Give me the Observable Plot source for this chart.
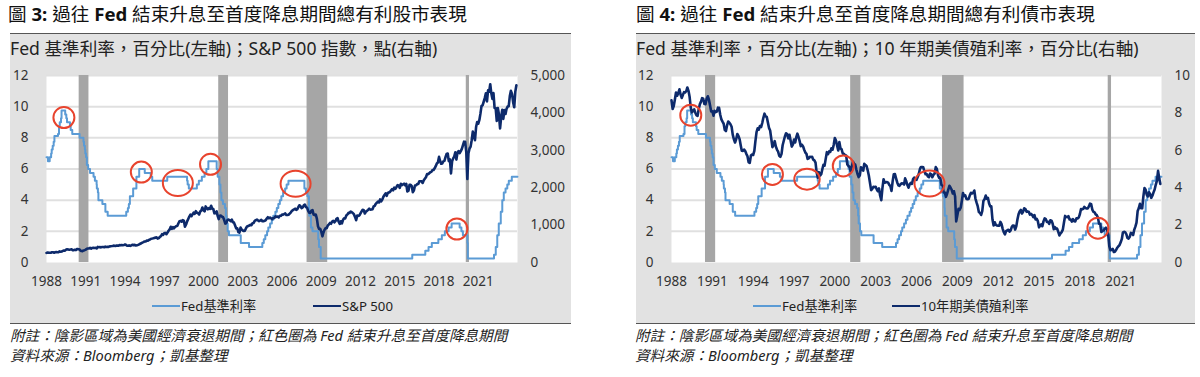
<!DOCTYPE html>
<html>
<head>
<meta charset="utf-8">
<script src="https://cdn.jsdelivr.net/npm/d3@7"></script>
<script src="https://cdn.jsdelivr.net/npm/@observablehq/plot@0.6"></script>
<style>
  html, body { margin: 0; padding: 0; }
  body { width: 1200px; height: 377px; background: #fff; position: relative; overflow: hidden;
         font-family: "Noto Sans", "Noto Sans CJK TC", sans-serif; color: #222; }
  .abs { position: absolute; white-space: nowrap; }
  .title { font-size: 18.6px; line-height: 22px; color: #111; font-weight: 400; }
  .title b { font-weight: 700; }
  .box { background: #e2e2e2; border-top: 1.5px solid #555; border-bottom: 1.5px solid #555; box-sizing: border-box; }
  .sub { font-size: 17.6px; line-height: 20px; color: #222; }
  .leg { font-size: 13.2px; line-height: 16px; color: #222; }
  .sw { position: absolute; height: 2px; }
  .note { font-style: italic; font-size: 14.6px; line-height: 20px; color: #222; }
</style>
</head>
<body>
<div class="title abs" style="left:8px;top:3px">圖 <b>3:</b> 過往 <b>Fed</b> 結束升息至首度降息期間總有利股市表現</div>
<div class="box abs" style="left:10px;top:33px;width:561px;height:291px"></div>
<div class="sub abs" style="left:10px;top:38px">Fed 基準利率，百分比(左軸)；S&amp;P 500 指數，點(右軸)</div>
<div id="chart3" class="abs" style="left:10px;top:60px"></div>
<div class="sw" style="left:152px;top:305px;width:28px;background:#5b9bd5"></div>
<div class="leg abs" style="left:181px;top:298px">Fed基準利率</div>
<div class="sw" style="left:313px;top:305px;width:28px;background:#0d2a6b"></div>
<div class="leg abs" style="left:342px;top:298px">S&amp;P 500</div>
<div class="note abs" style="left:10px;top:325px">附註：陰影區域為美國經濟衰退期間；紅色圈為 Fed 結束升息至首度降息期間</div>
<div class="note abs" style="left:10px;top:345px">資料來源：Bloomberg；凱基整理</div>

<div class="title abs" style="left:636px;top:3px">圖 <b>4:</b> 過往 <b>Fed</b> 結束升息至首度降息期間總有利債市表現</div>
<div class="box abs" style="left:636px;top:33px;width:559px;height:291px"></div>
<div class="sub abs" style="left:636px;top:38px">Fed 基準利率，百分比(左軸)；10 年期美債殖利率，百分比(右軸)</div>
<div id="chart4" class="abs" style="left:636px;top:60px"></div>
<div class="sw" style="left:753px;top:305px;width:28px;background:#5b9bd5"></div>
<div class="leg abs" style="left:782px;top:298px">Fed基準利率</div>
<div class="sw" style="left:892px;top:305px;width:28px;background:#0d2a6b"></div>
<div class="leg abs" style="left:921px;top:298px">10年期美債殖利率</div>
<div class="note abs" style="left:635px;top:325px">附註：陰影區域為美國經濟衰退期間；紅色圈為 Fed 結束升息至首度降息期間</div>
<div class="note abs" style="left:635px;top:345px">資料來源：Bloomberg；凱基整理</div>

<script>
// ---------------- DATA ----------------
// Tick labels
const xTickYears = [1988, 1991, 1994, 1997, 2000, 2003, 2006, 2009, 2012, 2015, 2018, 2021];
const leftTicks = [0, 2, 4, 6, 8, 10, 12];
const spTicks = [0, 1000, 2000, 3000, 4000, 5000];
const ustTicks = [0, 2, 4, 6, 8, 10];

// US recessions (shaded)
const recessionStarts = ["1990-07-01", "2001-03-01", "2007-12-01", "2020-02-01"];
const recessionEnds   = ["1991-03-31", "2001-11-30", "2009-06-30", "2020-04-30"];

// Fed funds target rate (upper bound), change dates and levels (%)
const fedChangeDates = ["1988-01-01","1988-02-11","1988-03-30","1988-05-09","1988-05-25","1988-06-22","1988-07-19","1988-08-09","1988-11-17","1988-12-15",
"1989-01-05","1989-02-09","1989-02-24","1989-06-06","1989-07-07","1989-07-27","1989-10-18","1989-11-06","1989-12-20",
"1990-07-13","1990-10-29","1990-11-13","1990-12-07","1990-12-19",
"1991-01-09","1991-02-01","1991-03-08","1991-04-30","1991-08-06","1991-09-13","1991-10-31","1991-11-06","1991-12-06","1991-12-20",
"1992-04-09","1992-07-02","1992-09-04",
"1994-02-04","1994-03-22","1994-04-18","1994-05-17","1994-08-16","1994-11-15",
"1995-02-01","1995-07-06","1995-12-19","1996-01-31","1997-03-25",
"1998-09-29","1998-10-15","1998-11-17","1999-06-30","1999-08-24","1999-11-16",
"2000-02-02","2000-03-21","2000-05-16",
"2001-01-03","2001-01-31","2001-03-20","2001-04-18","2001-05-15","2001-06-27","2001-08-21","2001-09-17","2001-10-02","2001-11-06","2001-12-11",
"2002-11-06","2003-06-25",
"2004-06-30","2004-08-10","2004-09-21","2004-11-10","2004-12-14",
"2005-02-02","2005-03-22","2005-05-03","2005-06-30","2005-08-09","2005-09-20","2005-11-01","2005-12-13",
"2006-01-31","2006-03-28","2006-05-10","2006-06-29",
"2007-09-18","2007-10-31","2007-12-11",
"2008-01-22","2008-01-30","2008-03-18","2008-04-30","2008-10-08","2008-10-29","2008-12-16",
"2015-12-16","2016-12-14","2017-03-15","2017-06-14","2017-12-13",
"2018-03-21","2018-06-13","2018-09-26","2018-12-19",
"2019-07-31","2019-09-18","2019-10-30","2020-03-03","2020-03-15",
"2022-03-16","2022-05-04","2022-06-15","2022-07-27","2022-09-21","2022-11-02","2022-12-14",
"2023-02-01","2023-03-22","2023-05-03","2023-07-26","2023-12-31"];
const fedRates = [6.75,6.5,6.75,7,7.25,7.5,7.75,8.125,8.25,8.75,
9,9.25,9.75,9.5,9.25,9,8.75,8.5,8.25,
8,7.75,7.5,7.25,7,
6.75,6.25,6,5.75,5.5,5.25,5,4.75,4.5,4,
3.75,3.25,3,
3.25,3.5,3.75,4.25,4.75,5.5,
6,5.75,5.5,5.25,5.5,
5.25,5,4.75,5,5.25,5.5,
5.75,6,6.5,
6,5.5,5,4.5,4,3.75,3.5,3,2.5,2,1.75,
1.25,1,
1.25,1.5,1.75,2,2.25,
2.5,2.75,3,3.25,3.5,3.75,4,4.25,
4.5,4.75,5,5.25,
4.75,4.5,4.25,
3.5,3,2.25,2,1.5,1,0.25,
0.5,0.75,1,1.25,1.5,
1.75,2,2.25,2.5,
2.25,2,1.75,1.25,0.25,
0.5,1,1.75,2.5,3.25,4,4.5,
4.75,5,5.25,5.5,5.5];

// Monthly series from Jan 1988 to Dec 2023
const seriesStart = "1988-01-01";
const sp500 = [
257,268,259,261,262,274,272,262,272,279,274,278,
297,289,295,310,321,318,346,351,349,340,346,353,
329,332,340,331,361,358,356,323,306,304,322,330,
344,367,375,375,390,371,388,395,388,392,375,417,
409,413,404,415,415,408,424,414,418,419,431,436,
439,443,452,440,450,451,448,464,459,468,462,466,
482,467,446,451,457,444,458,475,463,472,454,459,
471,487,501,515,533,545,562,562,584,582,605,616,
636,640,646,654,669,671,640,652,687,705,757,741,
786,791,757,801,848,885,954,899,947,915,955,970,
980,1049,1102,1112,1091,1134,1121,957,1017,1099,1164,1229,
1280,1238,1286,1335,1302,1373,1329,1320,1283,1363,1389,1469,
1394,1366,1499,1452,1421,1455,1431,1518,1437,1429,1315,1320,
1366,1240,1160,1249,1256,1224,1211,1134,1041,1060,1139,1148,
1130,1107,1147,1077,1067,990,912,916,815,800,936,880,
856,841,848,917,964,975,990,1008,996,1051,1058,1112,
1131,1145,1126,1107,1121,1141,1102,1104,1115,1130,1174,1212,
1181,1204,1181,1157,1191,1191,1234,1220,1229,1207,1249,1248,
1280,1281,1295,1311,1270,1270,1277,1304,1336,1378,1401,1418,
1438,1407,1421,1482,1531,1503,1455,1474,1527,1549,1481,1468,
1379,1331,1323,1386,1400,1280,1267,1283,1166,969,896,903,
826,700,798,873,919,919,987,1021,1057,1036,1096,1115,
1074,1104,1169,1187,1089,1031,1102,1049,1141,1183,1181,1258,
1286,1327,1326,1364,1345,1321,1292,1219,1131,1253,1247,1258,
1312,1366,1408,1398,1310,1362,1379,1407,1441,1412,1416,1426,
1498,1515,1569,1598,1631,1606,1686,1633,1682,1757,1806,1848,
1783,1859,1872,1884,1924,1960,1931,2003,1972,2018,2068,2059,
1995,2105,2068,2086,2107,2063,2104,1900,1920,2079,2080,2044,
1880,1932,2060,2065,2097,2099,2174,2171,2168,2126,2199,2239,
2279,2364,2363,2384,2412,2423,2470,2472,2519,2575,2648,2674,
2824,2714,2641,2648,2705,2718,2816,2902,2914,2712,2760,2380,
2704,2784,2834,2946,2752,2942,2980,2926,2977,3038,3141,3231,
3226,2954,2237,2912,3044,3100,3271,3500,3363,3270,3622,3756,
3714,3811,3973,4181,4204,4298,4395,4523,4308,4605,4567,4766,
4516,4374,4530,4132,4132,3785,4130,3955,3586,3872,4080,3840,
4077,3970,4109,4169,4180,4450,4589,4508,4288,4150,4568,4740];

const ust10y = [
8.67,8.21,8.37,8.72,9.09,8.92,9.06,9.26,8.98,8.80,8.96,9.11,
9.09,9.17,9.36,9.18,8.86,8.28,8.02,8.11,8.19,8.01,7.87,7.84,
8.21,8.47,8.59,8.79,8.76,8.48,8.47,8.75,8.89,8.72,8.39,8.08,
8.09,7.85,8.11,8.04,8.07,8.28,8.27,7.90,7.65,7.53,7.42,7.09,
7.03,7.34,7.54,7.48,7.39,7.26,6.84,6.59,6.42,6.59,6.87,6.77,
6.60,6.26,5.98,5.97,6.04,5.96,5.81,5.68,5.36,5.33,5.72,5.77,
5.75,5.97,6.48,6.97,7.18,7.10,7.30,7.24,7.46,7.74,7.96,7.81,
7.78,7.47,7.20,7.06,6.63,6.17,6.28,6.49,6.20,6.04,5.93,5.71,
5.65,5.81,6.27,6.51,6.74,6.91,6.87,6.64,6.83,6.53,6.20,6.30,
6.58,6.42,6.69,6.89,6.71,6.49,6.22,6.30,6.21,6.03,5.88,5.81,
5.54,5.57,5.65,5.64,5.65,5.50,5.46,5.34,4.81,4.53,4.83,4.65,
4.72,5.00,5.23,5.18,5.54,5.90,5.79,5.94,5.92,6.11,6.03,6.28,
6.66,6.52,6.26,5.99,6.44,6.10,6.05,5.83,5.80,5.74,5.72,5.24,
5.16,5.10,4.89,5.14,5.39,5.28,5.24,4.97,4.73,4.57,4.65,5.09,
5.04,4.91,5.28,5.21,5.16,4.93,4.65,4.26,3.87,3.94,4.05,4.03,
4.05,3.90,3.81,3.96,3.57,3.33,3.98,4.45,4.27,4.29,4.30,4.27,
4.15,4.08,3.83,4.35,4.72,4.73,4.50,4.28,4.13,4.10,4.19,4.23,
4.22,4.17,4.50,4.34,4.14,4.00,4.18,4.26,4.20,4.46,4.54,4.47,
4.42,4.57,4.72,4.99,5.11,5.11,5.09,4.88,4.72,4.73,4.60,4.56,
4.76,4.72,4.56,4.69,4.75,5.10,5.00,4.67,4.52,4.53,4.15,4.10,
3.74,3.74,3.51,3.68,3.88,4.10,4.01,3.89,3.69,3.81,3.53,2.20,
2.52,2.87,2.82,2.93,3.29,3.72,3.56,3.59,3.40,3.39,3.40,3.59,
3.73,3.69,3.73,3.85,3.42,3.20,3.01,2.70,2.65,2.54,2.76,3.29,
3.39,3.58,3.41,3.46,3.17,3.00,3.00,2.30,1.98,2.15,2.01,1.98,
1.97,1.97,2.17,2.05,1.80,1.62,1.50,1.68,1.72,1.75,1.65,1.72,
1.91,1.98,1.96,1.76,1.93,2.30,2.58,2.74,2.81,2.62,2.72,2.90,
2.86,2.71,2.72,2.71,2.56,2.60,2.54,2.42,2.53,2.30,2.33,2.21,
1.88,1.98,2.04,1.94,2.20,2.36,2.32,2.17,2.17,2.07,2.26,2.24,
2.09,1.78,1.89,1.81,1.81,1.64,1.45,1.56,1.63,1.76,2.14,2.49,
2.43,2.42,2.48,2.30,2.30,2.19,2.32,2.21,2.20,2.36,2.35,2.40,
2.58,2.86,2.84,2.87,2.98,2.91,2.89,2.89,3.00,3.15,3.12,2.83,
2.71,2.68,2.57,2.53,2.40,2.07,2.06,1.63,1.70,1.71,1.81,1.86,
1.76,1.50,0.87,0.66,0.67,0.73,0.56,0.58,0.68,0.79,0.87,0.93,
1.08,1.26,1.61,1.64,1.62,1.52,1.32,1.28,1.37,1.58,1.56,1.47,
1.76,1.93,2.13,2.75,2.90,3.14,2.90,2.90,3.52,3.98,3.89,3.62,
3.53,3.75,3.66,3.46,3.57,3.75,3.90,4.17,4.38,4.90,4.50,4.20];

// Red circles: end of hikes to first cut (centre date, level on left axis)
const circleDates3  = ["1989-05-01","1995-04-01","1998-01-15","2000-07-15","2007-01-15","2019-05-15"];
const circleValues3 = [9.3, 5.8, 5.1, 6.3, 5.05, 2.15];
const circleKinds3  = ["circle","circle","wide","circle","wide","circle"];
const circleDates4  = ["1989-06-01","1995-06-01","1997-12-15","2000-08-15","2006-12-15","2019-05-01"];
const circleValues4 = [9.45, 5.65, 5.35, 6.2, 5.07, 2.2];
const circleKinds4  = ["circle","circle","oval","circle","wide","circle"];

// ---------------- BUILD ----------------
const parse = d3.utcParse("%Y-%m-%d");
const start = parse(seriesStart);
const monthly = (vals) => vals.map((v, i) => ({date: d3.utcMonth.offset(start, i), v}));
const fedData = fedChangeDates.map((d, i) => ({date: parse(d), rate: fedRates[i]}));
const recessions = recessionStarts.map((d, i) => ({start: parse(d), end: parse(recessionEnds[i])}));
const circles = (dates, vals, kinds) => dates.map((d, i) => ({date: parse(d), v: vals[i], kind: kinds[i]}));

const FONT = '"Noto Sans", "Noto Sans CJK TC", sans-serif';
const FED_COLOR = "#5b9bd5";
const NAVY = "#0d2a6b";
const RED = "#e8432d";

function ellipseSymbol(rx, ry) {
  const k = 0.5523;
  return {
    draw(ctx) {
      ctx.moveTo(rx, 0);
      ctx.bezierCurveTo(rx, ry * k, rx * k, ry, 0, ry);
      ctx.bezierCurveTo(-rx * k, ry, -rx, ry * k, -rx, 0);
      ctx.bezierCurveTo(-rx, -ry * k, -rx * k, -ry, 0, -ry);
      ctx.bezierCurveTo(rx * k, -ry, rx, -ry * k, rx, 0);
      ctx.closePath();
    }
  };
}
const shapeSizes = {circle: [10.5, 10.5], wide: [15, 13], oval: [12.7, 10.5]};

function makePanel({width, marginLeft, marginRight, series, rightTicks, rightMax, circ}) {
  const k = 12 / rightMax;
  const marks = [
    Plot.frame({fill: "white", stroke: "none"}),
    Plot.gridY(leftTicks.filter(t => t > 0), {stroke: "#e0e0e0", strokeOpacity: 1, strokeWidth: 2}),
    Plot.rect(recessions, {x1: "start", x2: "end", fill: "#a6a6a6"}),
    Plot.line(fedData, {x: "date", y: "rate", curve: "step-after", stroke: FED_COLOR, strokeWidth: 2}),
    Plot.line(series, {x: "date", y: d => d.v * k, stroke: NAVY, strokeWidth: 2.6, strokeLinejoin: "round"}),
  ];
  for (const kind of Object.keys(shapeSizes)) {
    const sub = circ.filter(c => c.kind === kind);
    if (!sub.length) continue;
    const [rx, ry] = shapeSizes[kind];
    marks.push(Plot.dot(sub, {x: "date", y: "v", symbol: ellipseSymbol(rx, ry), r: 10, fill: "none", stroke: RED, strokeWidth: 2}));
  }
  marks.push(
    Plot.axisX({ticks: xTickYears.map(y => new Date(Date.UTC(y, 0, 1))), tickFormat: d3.utcFormat("%Y"), tickSize: 0, tickPadding: 14}),
    Plot.axisY({ticks: leftTicks, anchor: "left", tickSize: 0, tickPadding: 18}),
    Plot.axisY({ticks: rightTicks.map(v => v * k), anchor: "right", tickSize: 0, tickPadding: 13,
                tickFormat: d => d3.format(",")(Math.round(d / k))})
  );
  return Plot.plot({
    width, height: 240, marginLeft, marginRight, marginTop: 15, marginBottom: 38,
    style: {background: "transparent", fontFamily: FONT, fontSize: "13.5px", color: "#333", overflow: "visible"},
    x: {type: "utc", domain: [parse("1988-01-01"), parse("2024-01-01")]},
    y: {domain: [0, 12]},
    marks
  });
}

document.getElementById("chart3").append(makePanel({
  width: 561, marginLeft: 36, marginRight: 54,
  series: monthly(sp500), rightTicks: spTicks, rightMax: 5000,
  circ: circles(circleDates3, circleValues3, circleKinds3)
}));
document.getElementById("chart4").append(makePanel({
  width: 559, marginLeft: 35, marginRight: 34,
  series: monthly(ust10y), rightTicks: ustTicks, rightMax: 10,
  circ: circles(circleDates4, circleValues4, circleKinds4)
}));
</script>
</body>
</html>
